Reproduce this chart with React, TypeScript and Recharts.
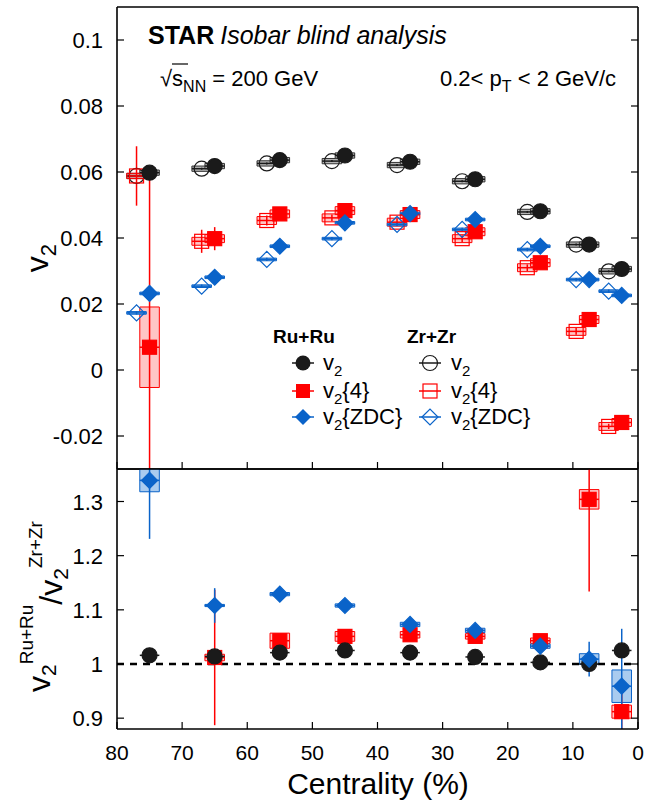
import React from 'react';
import { ComposedChart, Scatter, XAxis, YAxis, ErrorBar, ReferenceArea, ReferenceLine } from 'recharts';

const FONT = '"Liberation Sans", Arial, Helvetica, sans-serif';
const BLACK = '#1a1a1a';
const RED = '#ff0000';
const BLUE = '#0a63c9';

// ---------- categories / ticks ----------
const centRu = [75, 65, 55, 45, 35, 25, 15, 7.5, 2.5];
const centZr = [77, 67, 57, 47, 37, 27, 17, 9.5, 4.5];
const xTicks = [80, 70, 60, 50, 40, 30, 20, 10, 0];
const topTicks = [-0.02, 0, 0.02, 0.04, 0.06, 0.08, 0.1];
const ratioTicks = [0.9, 1, 1.1, 1.2, 1.3];

// ---------- top panel: v2 ----------
const v2Ru = [0.0598, 0.0618, 0.0636, 0.065, 0.0631, 0.0578, 0.0481, 0.038, 0.0306];
const v2Zr = [0.0588, 0.061, 0.0626, 0.0633, 0.0621, 0.0572, 0.0479, 0.038, 0.0299];
const v2Err = [0.0003, 0.0003, 0.0003, 0.0003, 0.0003, 0.0003, 0.0003, 0.0003, 0.0003];
const v2Sys = [0.0008, 0.0008, 0.0008, 0.0008, 0.0008, 0.0008, 0.0008, 0.0008, 0.0008];

const v24Ru = [0.0069, 0.0398, 0.0473, 0.0483, 0.0471, 0.0419, 0.0325, 0.0153, -0.0159];
// [lower, upper] errors; the 75% lower error runs past the frame
const v24RuErr: [number, number][] = [[0.037, 0.053], [0.0035, 0.0035], [0.0015, 0.0015], [0.001, 0.001], [0.001, 0.001], [0.001, 0.001], [0.001, 0.001], [0.001, 0.001], [0.0008, 0.0008]];
const v24RuSys = [0.0122, 0.0012, 0.0012, 0.0012, 0.0012, 0.0012, 0.0012, 0.0012, 0.0012];
const v24Zr = [0.0588, 0.039, 0.0453, 0.0461, 0.0448, 0.0398, 0.031, 0.0117, -0.0171];
const v24ZrErr = [0.009, 0.0035, 0.0015, 0.001, 0.001, 0.001, 0.001, 0.001, 0.0008];
const v24ZrSys = [0.0008, 0.0012, 0.0012, 0.0012, 0.0012, 0.0012, 0.0012, 0.0012, 0.0012];

const zdcRu = [0.0232, 0.0281, 0.0375, 0.0446, 0.0474, 0.0456, 0.0375, 0.0274, 0.0226];
const zdcZr = [0.0173, 0.0254, 0.0335, 0.0398, 0.0441, 0.0426, 0.0365, 0.0274, 0.0239];
const zdcErr = [0.0005, 0.0005, 0.0005, 0.0005, 0.0005, 0.0005, 0.0005, 0.0005, 0.0005];
const zdcSys = [0.0004, 0.0004, 0.0004, 0.0004, 0.0004, 0.0004, 0.0004, 0.0004, 0.0004];

// ---------- bottom panel: Ru+Ru / Zr+Zr ratios ----------
const ratioV2 = [1.016, 1.014, 1.021, 1.025, 1.021, 1.013, 1.003, 1.0, 1.025];
const ratioV2Err = [0.003, 0.003, 0.003, 0.003, 0.003, 0.003, 0.003, 0.003, 0.003];
const ratioV2Sys = [0, 0, 0, 0, 0, 0, 0, 0, 0];
const ratioV24: (number | null)[] = [null, 1.012, 1.043, 1.051, 1.054, 1.051, 1.043, 1.304, 0.912];
const ratioV24Err: [number, number][] = [[0, 0], [0.125, 0.125], [0.012, 0.012], [0.005, 0.005], [0.005, 0.005], [0.005, 0.005], [0.005, 0.005], [0.17, 0.056], [0.032, 0.05]];
const ratioV24Sys = [0, 0.006, 0.014, 0.009, 0.006, 0.005, 0.005, 0.018, 0.012];
const ratioZdc = [1.339, 1.108, 1.129, 1.108, 1.073, 1.062, 1.033, 1.009, 0.959];
const ratioZdcErr: [number, number][] = [[0.108, 0.021], [0.032, 0.032], [0.008, 0.008], [0.004, 0.004], [0.005, 0.005], [0.005, 0.005], [0.005, 0.005], [0.032, 0.032], [0.079, 0.106]];
const ratioZdcSys = [0.021, 0.002, 0.003, 0.003, 0.004, 0.004, 0.004, 0.01, 0.03];

const X_ERR = 1.5; // half-length of horizontal bars
const SYS_W = 1.5; // half-width of systematic boxes

type Err = number | [number, number];
type Pt = { x: number; y: number; ey: Err; ex: number; sys: number };
const rows = (xs: number[], ys: (number | null)[], ey: Err[], sys: number[]): Pt[] =>
  xs
    .map((x, i) => ({ x, y: ys[i] as number, ey: ey[i], ex: X_ERR, sys: sys[i] }))
    .filter((p) => p.y !== null && p.y !== undefined);

const dV2Ru = rows(centRu, v2Ru, v2Err, v2Sys);
const dV2Zr = rows(centZr, v2Zr, v2Err, v2Sys);
const dV24Ru = rows(centRu, v24Ru, v24RuErr, v24RuSys);
const dV24Zr = rows(centZr, v24Zr, v24ZrErr, v24ZrSys);
const dZdcRu = rows(centRu, zdcRu, zdcErr, zdcSys);
const dZdcZr = rows(centZr, zdcZr, zdcErr, zdcSys);
const dRV2 = rows(centRu, ratioV2, ratioV2Err, ratioV2Sys);
const dRV24 = rows(centRu, ratioV24, ratioV24Err, ratioV24Sys);
const dRZdc = rows(centRu, ratioZdc, ratioZdcErr, ratioZdcSys);

// ---------- marker shapes ----------
const circleShape = (filled: boolean) => (p: any) => (
  <circle cx={p.cx} cy={p.cy} r={7.5} fill={filled ? BLACK : 'none'} stroke={BLACK} strokeWidth={1.2} />
);
const squareShape = (filled: boolean) => (p: any) => (
  <rect x={p.cx - 7} y={p.cy - 7} width={14} height={14} fill={filled ? RED : 'none'} stroke={RED} strokeWidth={1.2} />
);
const diamondShape = (filled: boolean) => (p: any) => (
  <polygon
    points={`${p.cx - 8},${p.cy} ${p.cx},${p.cy - 8} ${p.cx + 8},${p.cy} ${p.cx},${p.cy + 8}`}
    fill={filled ? BLUE : 'none'}
    stroke={BLUE}
    strokeWidth={1.2}
  />
);

// ---------- ticks (inward tick marks) ----------
const TICK = 7;
const fmt = (v: number) => String(v);
const BottomTick = (p: any) => (
  <g>
    <line x1={p.x} x2={p.x} y1={p.y} y2={p.y - TICK} stroke="#000" strokeWidth={1.2} />
    {p.showLabel && (
      <text x={p.x} y={p.y + 31} textAnchor="middle" fontSize={21} fontFamily={FONT} fill="#000">
        {fmt(p.payload.value)}
      </text>
    )}
  </g>
);
const TopTick = (p: any) => (
  <line x1={p.x} x2={p.x} y1={p.y} y2={p.y + TICK} stroke="#000" strokeWidth={1.2} />
);
const LeftTick = (p: any) => (
  <g>
    <line x1={p.x} x2={p.x + TICK} y1={p.y} y2={p.y} stroke="#000" strokeWidth={1.2} />
    <text x={p.x - 14} y={p.y + 8} textAnchor="end" fontSize={22} fontFamily={FONT} fill="#000">
      {fmt(p.payload.value)}
    </text>
  </g>
);
const RightTick = (p: any) => (
  <line x1={p.x} x2={p.x - TICK} y1={p.y} y2={p.y} stroke="#000" strokeWidth={1.2} />
);

const axisLine = { stroke: '#000', strokeWidth: 1.6 };

function axesFor(domain: [number, number], yTicks: number[], showX: boolean) {
  return [
    <XAxis
      key="xb"
      xAxisId="b"
      type="number"
      dataKey="x"
      domain={[0, 80]}
      reversed
      ticks={xTicks}
      interval={0}
      allowDataOverflow
      height={1}
      tickSize={0}
      tickMargin={0}
      tickLine={false}
      axisLine={axisLine}
      tick={(p: any) => <BottomTick {...p} showLabel={showX} />}
    />,
    <XAxis
      key="xt"
      xAxisId="t"
      orientation="top"
      type="number"
      domain={[0, 80]}
      reversed
      ticks={xTicks}
      interval={0}
      allowDataOverflow
      height={1}
      tickSize={0}
      tickMargin={0}
      tickLine={false}
      axisLine={axisLine}
      tick={(p: any) => <TopTick {...p} />}
    />,
    <YAxis
      key="yl"
      yAxisId="l"
      type="number"
      domain={domain}
      ticks={yTicks}
      interval={0}
      allowDataOverflow
      width={117}
      tickSize={0}
      tickMargin={0}
      tickLine={false}
      axisLine={axisLine}
      tick={(p: any) => <LeftTick {...p} />}
    />,
    <YAxis
      key="yr"
      yAxisId="r"
      orientation="right"
      type="number"
      domain={domain}
      ticks={yTicks}
      interval={0}
      allowDataOverflow
      width={1}
      tickSize={0}
      tickMargin={0}
      tickLine={false}
      axisLine={axisLine}
      tick={(p: any) => <RightTick {...p} />}
    />,
  ];
}

const boxes = (data: Pt[], fill: string, stroke: string, prefix: string) =>
  data
    .filter((d) => d.sys > 0)
    .map((d, i) => (
      <ReferenceArea
        key={prefix + i}
        xAxisId="b"
        yAxisId="l"
        x1={d.x - SYS_W}
        x2={d.x + SYS_W}
        y1={d.y - d.sys}
        y2={d.y + d.sys}
        fill={fill}
        fillOpacity={1}
        stroke={stroke}
        strokeWidth={1}
        ifOverflow="hidden"
      />
    ));

const series = (data: Pt[], shape: any, color: string, key: string) => (
  <Scatter key={key} xAxisId="b" yAxisId="l" data={data} dataKey="y" shape={shape} isAnimationActive={false}>
    <ErrorBar dataKey="ey" direction="y" width={0} stroke={color} strokeWidth={1.5} />
    <ErrorBar dataKey="ex" direction="x" width={0} stroke={color} strokeWidth={1.5} />
  </Scatter>
);

const GREY_FILL = '#b4b4b4';
const PINK_FILL = 'rgba(255,90,90,0.35)';
const LBLUE_FILL = '#a9cbef';

function Overlay() {
  const t = { fontFamily: FONT, fill: '#000' } as const;
  const legRowsY = [363, 391, 417];
  const legLine = (x: number, y: number, c: string) => (
    <line x1={x - 11} x2={x + 11} y1={y} y2={y} stroke={c} strokeWidth={1.5} />
  );
  const vText = (x: number, y: number, suffix: string) => (
    <text x={x} y={y + 7} fontSize={22} {...t}>
      v<tspan dy={6} fontSize={15}>2</tspan>
      <tspan dy={-6}>{suffix}</tspan>
    </text>
  );
  return (
    <svg width={648} height={806} style={{ position: 'absolute', left: 0, top: 0, pointerEvents: 'none' }}>
      {/* header */}
      <text x={148} y={44} fontSize={25} {...t}>
        <tspan fontWeight="bold">STAR</tspan>
        <tspan fontStyle="italic" dx={6}>Isobar blind analysis</tspan>
      </text>
      <text x={160} y={86} fontSize={22} {...t}>
        √<tspan>s</tspan>
        <tspan dy={6} fontSize={16}>NN</tspan>
        <tspan dy={-6}> = 200 GeV</tspan>
      </text>
      <line x1={172} x2={188} y1={64} y2={64} stroke="#000" strokeWidth={1.2} />
      <text x={440} y={86} fontSize={22} {...t}>
        0.2&lt; p<tspan dy={6} fontSize={16}>T</tspan>
        <tspan dy={-6}> &lt; 2 GeV/c</tspan>
      </text>

      {/* legend */}
      <text x={273} y={343} fontSize={19} fontWeight="bold" {...t}>Ru+Ru</text>
      <text x={407} y={343} fontSize={19} fontWeight="bold" {...t}>Zr+Zr</text>
      {legLine(303, legRowsY[0], BLACK)}
      <circle cx={303} cy={legRowsY[0]} r={7.5} fill={BLACK} />
      {legLine(303, legRowsY[1], RED)}
      <rect x={296} y={legRowsY[1] - 7} width={14} height={14} fill={RED} />
      {legLine(303, legRowsY[2], BLUE)}
      <polygon points={`295,${legRowsY[2]} 303,${legRowsY[2] - 8} 311,${legRowsY[2]} 303,${legRowsY[2] + 8}`} fill={BLUE} />
      {vText(323, legRowsY[0], '')}
      {vText(323, legRowsY[1], '{4}')}
      {vText(323, legRowsY[2], '{ZDC}')}

      {legLine(430, legRowsY[0], BLACK)}
      <circle cx={430} cy={legRowsY[0]} r={7.5} fill="none" stroke={BLACK} strokeWidth={1.2} />
      {legLine(430, legRowsY[1], RED)}
      <rect x={423} y={legRowsY[1] - 7} width={14} height={14} fill="none" stroke={RED} strokeWidth={1.2} />
      {legLine(430, legRowsY[2], BLUE)}
      <polygon points={`422,${legRowsY[2]} 430,${legRowsY[2] - 8} 438,${legRowsY[2]} 430,${legRowsY[2] + 8}`} fill="none" stroke={BLUE} strokeWidth={1.2} />
      {vText(451, legRowsY[0], '')}
      {vText(451, legRowsY[1], '{4}')}
      {vText(451, legRowsY[2], '{ZDC}')}

      {/* axis titles */}
      <text transform="translate(48,258) rotate(-90)" textAnchor="middle" fontSize={32} {...t}>
        v<tspan dy={8} fontSize={22}>2</tspan>
      </text>
      <text transform="translate(50,692) rotate(-90)" fontSize={32} {...t}>
        v<tspan dy={6} fontSize={21}>2</tspan>
        <tspan dy={-23} fontSize={19}>Ru+Ru</tspan>
        <tspan dy={29}>/v</tspan>
        <tspan dy={6} fontSize={21}>2</tspan>
        <tspan dy={-26} fontSize={19}>Zr+Zr</tspan>
      </text>
      <text x={378} y={794} textAnchor="middle" fontSize={30} {...t}>Centrality (%)</text>
    </svg>
  );
}

export default function App() {
  return (
    <div style={{ position: 'absolute', left: 0, top: 0, width: 648, height: 806, background: '#fff', fontFamily: FONT }}>
      <div style={{ position: 'absolute', left: 0, top: 0 }}>
        <ComposedChart width={648} height={470} margin={{ top: 6, right: 9, left: 0, bottom: 0 }}>
          {axesFor([-0.03, 0.11], topTicks, false)}
          {boxes(dV2Zr, GREY_FILL, '#333', 'bz')}
          {boxes(dV2Ru, GREY_FILL, '#333', 'br')}
          {boxes(dV24Zr, PINK_FILL, RED, 'b4z')}
          {boxes(dV24Ru, PINK_FILL, RED, 'b4r')}
          {boxes(dZdcZr, LBLUE_FILL, BLUE, 'bdz')}
          {boxes(dZdcRu, LBLUE_FILL, BLUE, 'bdr')}
          {series(dV2Zr, circleShape(false), BLACK, 's1')}
          {series(dV24Zr, squareShape(false), RED, 's2')}
          {series(dZdcZr, diamondShape(false), BLUE, 's3')}
          {series(dV24Ru, squareShape(true), RED, 's4')}
          {series(dV2Ru, circleShape(true), BLACK, 's5')}
          {series(dZdcRu, diamondShape(true), BLUE, 's6')}
        </ComposedChart>
      </div>
      <div style={{ position: 'absolute', left: 0, top: 468 }}>
        <ComposedChart width={648} height={338} margin={{ top: 0, right: 9, left: 0, bottom: 76 }}>
          {axesFor([0.88, 1.36], ratioTicks, true)}
          <ReferenceLine xAxisId="b" yAxisId="l" y={1} stroke="#000" strokeWidth={2.5} strokeDasharray="7 6" />
          {boxes(dRV24, PINK_FILL, RED, 'rb4')}
          {boxes(dRZdc, LBLUE_FILL, BLUE, 'rbd')}
          {series(dRV24, squareShape(true), RED, 'r1')}
          {series(dRV2, circleShape(true), BLACK, 'r2')}
          {series(dRZdc, diamondShape(true), BLUE, 'r3')}
        </ComposedChart>
      </div>
      <Overlay />
    </div>
  );
}
